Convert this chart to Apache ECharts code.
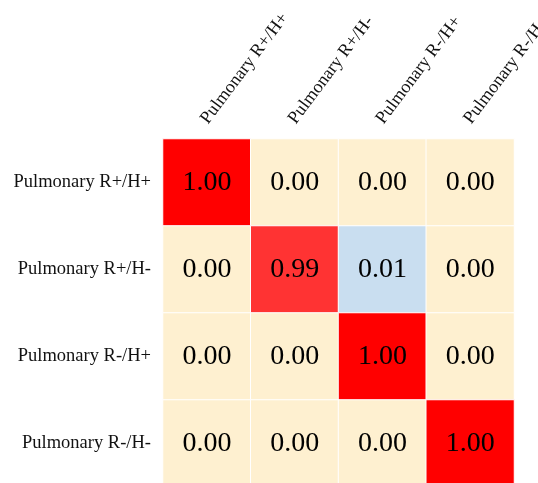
<!DOCTYPE html>
<html>
<head>
<meta charset="utf-8">
<style>
  html, body { margin: 0; padding: 0; background: #fff; }
  #chart { width: 538px; height: 483px; }
</style>
<script src="https://cdn.jsdelivr.net/npm/echarts@6/dist/echarts.min.js"></script>
</head>
<body>
<div id="chart"></div>
<script>
// Class names shown on both axes (predicted along x, true along y)
const predictedLabels = ['Pulmonary R+/H+', 'Pulmonary R+/H-', 'Pulmonary R-/H+', 'Pulmonary R-/H-'];
const trueLabels = ['Pulmonary R+/H+', 'Pulmonary R+/H-', 'Pulmonary R-/H+', 'Pulmonary R-/H-'];

// Normalised confusion matrix, one array per true class
const rowRpHp = [1.00, 0.00, 0.00, 0.00];
const rowRpHm = [0.00, 0.99, 0.01, 0.00];
const rowRmHp = [0.00, 0.00, 1.00, 0.00];
const rowRmHm = [0.00, 0.00, 0.00, 1.00];
const matrixRows = [rowRpHp, rowRpHm, rowRmHp, rowRmHm];

const cells = [];
matrixRows.forEach((row, r) => {
  row.forEach((v, c) => cells.push([c, r, v]));
});

const serif = '"Liberation Serif", "Times New Roman", serif';

const chart = echarts.init(document.getElementById('chart'));
chart.setOption({
  animation: false,
  backgroundColor: '#ffffff',
  grid: { left: 163, top: 139, width: 351, height: 348, outerBoundsMode: 'none', containLabel: false },
  xAxis: {
    type: 'category',
    position: 'top',
    data: predictedLabels,
    axisLine: { show: false },
    axisTick: { show: false },
    splitArea: { show: false },
    axisLabel: {
      rotate: -53,
      margin: 4,
      align: 'left',
      verticalAlign: 'bottom',
      padding: [0, 0, 1, 9],
      fontFamily: serif,
      fontSize: 18,
      color: '#111'
    }
  },
  yAxis: {
    type: 'category',
    inverse: true,
    data: trueLabels,
    axisLine: { show: true, lineStyle: { color: '#d4d4d4', width: 1 } },
    axisTick: { show: false },
    axisLabel: {
      margin: 12,
      fontFamily: serif,
      fontSize: 18.5,
      color: '#111'
    }
  },
  visualMap: {
    show: false,
    type: 'piecewise',
    dimension: 2,
    pieces: [
      { value: 0, color: '#fef0d0' },
      { gt: 0, lt: 0.5, color: '#c9def0' },
      { gte: 0.5, lt: 1, color: '#ff3333' },
      { value: 1, color: '#ff0000' }
    ]
  },
  series: [{
    type: 'heatmap',
    data: cells,
    itemStyle: { borderColor: '#ffffff', borderWidth: 1 },
    label: {
      show: true,
      formatter: p => p.value[2].toFixed(2),
      fontFamily: serif,
      fontSize: 28,
      color: '#000'
    },
    emphasis: { disabled: true }
  }]
});
</script>
</body>
</html>
